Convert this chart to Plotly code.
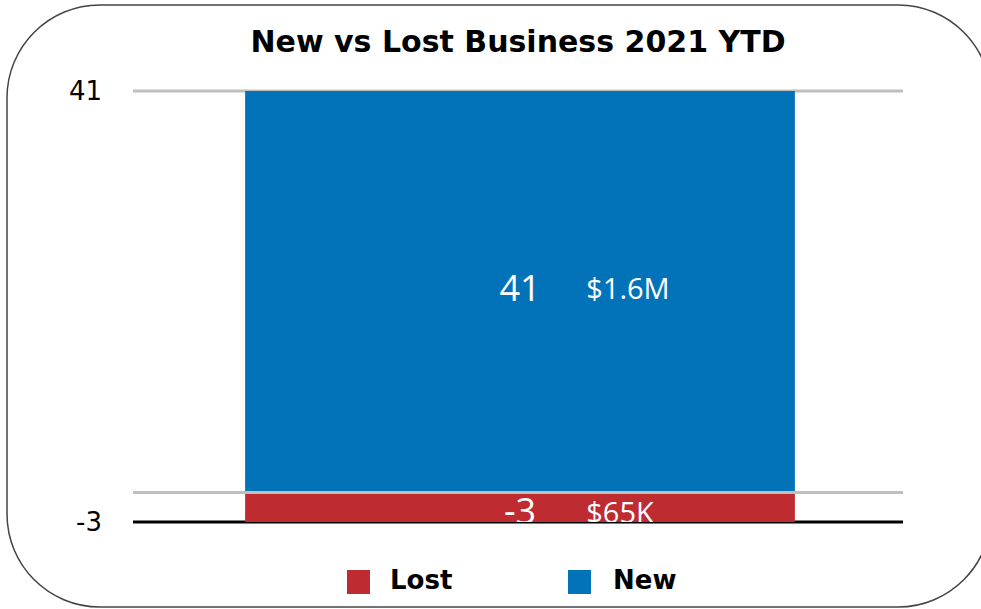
import plotly.graph_objects as go

# ---- data ----
categories = [0]
series_names = ["Lost", "New"]
counts = [-3, 41]
amounts = ["$65K", "$1.6M"]
y_ticks = [41, -3]
title_text = "New vs Lost Business 2021 YTD"

# ---- style ----
colors = {"Lost": "#BE2B31", "New": "#0373B9"}
FONT = "Open Sans"
BOLD_FONT = "DejaVu Sans"
W_FIG, H_FIG = 981, 609
L, R, T, B = 133, 903, 91, 522
PW, PH = R - L, B - T
YMIN, YMAX = min(y_ticks), max(y_ticks)
UNIT_PX = PH / (YMAX - YMIN)
label_shift_px = {"Lost": 8, "New": 0}
X_SHIFT = 2 / PW  # bar sits 2px right of the plot centre


def px(x):
    return (x - L) / PW


def py(y):
    return (B - y) / PH


def vy(v):  # data value -> paper y
    return (v - YMIN) / (YMAX - YMIN)


fig = go.Figure()

for name, val in zip(series_names, counts):
    fig.add_trace(go.Bar(
        x=categories, y=[val], name=name, width=0.714,
        marker=dict(color=colors[name], line=dict(width=0)),
        showlegend=False, hoverinfo="skip",
    ))

# data labels (clipped to plot area like the reference)
for name, val, amt in zip(series_names, counts, amounts):
    ylab = val / 2 - label_shift_px[name] / UNIT_PX
    fig.add_trace(go.Scatter(
        x=[categories[0]], y=[ylab], mode="text", text=[str(val)],
        textposition="middle center",
        textfont=dict(family=FONT, size=36, color="white"),
        cliponaxis=True, showlegend=False, hoverinfo="skip",
    ))
    fig.add_trace(go.Scatter(
        x=[categories[0] + 0.086], y=[ylab], mode="text", text=[amt],
        textposition="middle right",
        textfont=dict(family=FONT, size=29, color="white"),
        cliponaxis=True, showlegend=False, hoverinfo="skip",
    ))

shapes = []
# top grid line (below bars)
shapes.append(dict(type="line", xref="paper", x0=0, x1=1, yref="paper", y0=vy(YMAX), y1=vy(YMAX),
                   line=dict(color="#BFBFBF", width=3), layer="below"))
# zero line above bars
shapes.append(dict(type="line", xref="paper", x0=0, x1=1, yref="paper", y0=vy(0), y1=vy(0),
                   line=dict(color="#BFBFBF", width=3), layer="above"))
# bottom black line
shapes.append(dict(type="line", xref="paper", x0=0, x1=1, yref="paper", y0=vy(YMIN), y1=vy(YMIN),
                   line=dict(color="black", width=3), layer="below"))

# rounded border
x0, x1, y0, y1, r = 7, 991, 5, 607, 93
k = 0.5523 * r
pts = [
    ("M", [(x0 + r, y0)]),
    ("L", [(x1 - r, y0)]),
    ("C", [(x1 - r + k, y0), (x1, y0 + r - k), (x1, y0 + r)]),
    ("L", [(x1, y1 - r)]),
    ("C", [(x1, y1 - r + k), (x1 - r + k, y1), (x1 - r, y1)]),
    ("L", [(x0 + r, y1)]),
    ("C", [(x0 + r - k, y1), (x0, y1 - r + k), (x0, y1 - r)]),
    ("L", [(x0, y0 + r)]),
    ("C", [(x0, y0 + r - k), (x0 + r - k, y0), (x0 + r, y0)]),
]
path = ""
for cmd, ps in pts:
    path += cmd + " ".join(f"{px(a):.5f},{py(b):.5f}" for a, b in ps) + " "
path += "Z"
shapes.append(dict(type="path", xref="paper", yref="paper", path=path,
                   line=dict(color="#444444", width=1.5), layer="below"))

# manual legend
annotations = []
legend_items = [("Lost", 347, 390), ("New", 568, 613)]
for name, sx, tx in legend_items:
    shapes.append(dict(type="rect", xref="paper", yref="paper",
                       x0=px(sx), x1=px(sx + 23), y0=py(570), y1=py(594),
                       fillcolor=colors[name], line=dict(width=0)))
    annotations.append(dict(xref="paper", yref="paper", x=px(tx - 2), y=py(580),
                            xanchor="left", yanchor="middle", showarrow=False,
                            text=f"<b>{name}</b>",
                            font=dict(family=BOLD_FONT, size=26, color="black")))

fig.update_layout(
    width=W_FIG, height=H_FIG,
    margin=dict(l=L, r=W_FIG - R, t=T, b=H_FIG - B, pad=0),
    paper_bgcolor="white", plot_bgcolor="white",
    barmode="relative",
    title=dict(text=f"<b>{title_text}</b>", x=px(518), xref="paper", xanchor="center",
               y=(H_FIG - 41) / H_FIG, yref="container", yanchor="middle",
               font=dict(family=BOLD_FONT, size=30, color="black")),
    xaxis=dict(range=[-0.5 - X_SHIFT, 0.5 - X_SHIFT], showticklabels=False, showgrid=False,
               zeroline=False, showline=False, fixedrange=True),
    yaxis=dict(range=[YMIN, YMAX], tickvals=y_ticks,
               ticktext=[str(v) for v in y_ticks],
               tickfont=dict(family="DejaVu Sans", size=26, color="black"),
               showgrid=False, zeroline=False, showline=False, ticks="",
               ticklabelstandoff=30, fixedrange=True),
    shapes=shapes, annotations=annotations,
    showlegend=False,
)

fig.write_html("out.html", config={"displayModeBar": False, "staticPlot": True},
               post_script="document.body.style.margin='0';document.body.style.padding='0';")
